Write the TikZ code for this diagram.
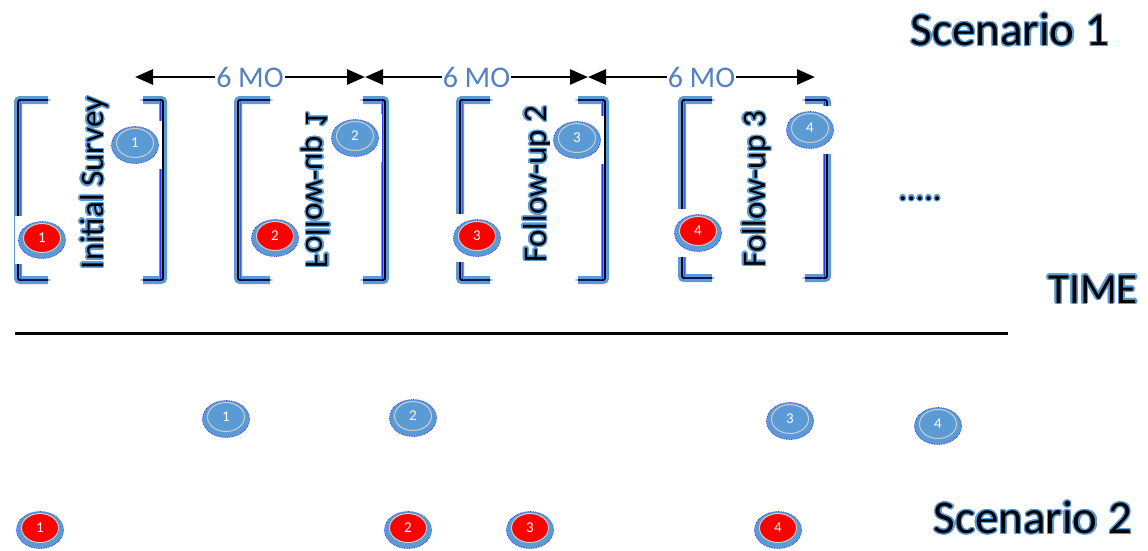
\documentclass[tikz,border=0pt]{standalone}
\usepackage{fontspec}
\setmainfont{Carlito}
\usepackage{contour}
\usetikzlibrary{arrows.meta,shapes.geometric}

\definecolor{bluefill}{RGB}{91,155,213}
\definecolor{glowblue}{RGB}{91,155,213}
\definecolor{labelblue}{RGB}{84,130,190}
\definecolor{ringgray}{RGB}{205,205,205}
\definecolor{rimblue}{RGB}{40,40,230}
\definecolor{edgeblue}{RGB}{30,60,255}
\definecolor{dotred}{RGB}{255,0,0}

\contourlength{1.3pt}
\contournumber{24}
\newcommand\glow[1]{\contour{glowblue}{#1}}

% a numbered disk: white backing, blue base, coloured face
\newcommand\marker[4]{%
  \node[backing] at (#2) {};
  \node[diskbase] (#1) at (#2) {};
  \node[diskface, fill=#3] at ([yshift=2pt]#1.center) {#4};
}

\begin{document}
\begin{tikzpicture}[x=1pt,y=-1pt,
  backing/.style={fill=white, minimum width=54pt, minimum height=48pt, inner sep=0pt},
  diskbase/.style={ellipse, fill=bluefill, draw=rimblue, densely dotted, line width=0.7pt,
                   minimum width=47pt, minimum height=37pt, inner sep=0pt},
  diskface/.style={ellipse, draw=ringgray, solid, line width=1pt, text=white,
                   minimum width=37pt, minimum height=29pt, inner sep=0pt,
                   font=\fontsize{15}{15}\selectfont},
  lbrk/.style={draw=black, line width=1.8pt, rounded corners=2pt,
               preaction={draw=bluefill, line width=8pt},
               postaction={draw=edgeblue, line width=0.7pt, transform canvas={xshift=2.6pt}}},
  rbrk/.style={draw=black, line width=1.8pt, rounded corners=2pt,
               preaction={draw=bluefill, line width=8pt},
               postaction={draw=edgeblue, line width=0.7pt, transform canvas={xshift=-2.6pt}}},
  span/.style={{Triangle[length=18pt,width=15pt]}-{Triangle[length=18pt,width=15pt]}, line width=2.8pt},
  spanlabel/.style={fill=white, text=labelblue, inner sep=1pt, font=\fontsize{30}{30}\selectfont},
  stagelabel/.style={rotate=90, font=\fontsize{33}{33}\selectfont, inner sep=0pt},
  title/.style={font=\fontsize{47}{47}\selectfont, inner sep=0pt}
]
\useasboundingbox (0,0) rectangle (1148,550);

% brackets around each survey wave
\draw[lbrk] (48,100) -- (18,100) -- (18,280) -- (48,280);
\draw[rbrk] (143,100) -- (163,100) -- (163,280) -- (143,280);
\draw[lbrk] (270,100) -- (238,100) -- (238,280) -- (270,280);
\draw[rbrk] (363,100) -- (385,100) -- (385,280) -- (363,280);
\draw[lbrk] (490,100) -- (460,100) -- (460,280) -- (490,280);
\draw[rbrk] (578,100) -- (605,100) -- (605,280) -- (578,280);
\draw[lbrk] (712,100) -- (682,100) -- (682,278) -- (712,278);
\draw[rbrk] (805,100) -- (827,100) -- (827,278) -- (805,278);

% wave labels (the first follow-up label is set mirrored)
\node[stagelabel] (s0) at (95,183) {\glow{Initial Survey}};
\node[stagelabel] (s1) at (315,190) {\scalebox{1}[-1]{\glow{Follow-up 1}}};
\node[stagelabel] (s2) at (538,184) {\glow{Follow-up 2}};
\node[stagelabel] (s3) at (757,189) {\glow{Follow-up 3}};

% scenario 1 markers
\marker{b1}{135,145}{bluefill}{1}
\marker{r1}{42,240}{dotred}{1}
\marker{b2}{355,138}{bluefill}{2}
\marker{r2}{275,238}{dotred}{2}
\marker{b3}{577,140}{bluefill}{3}
\marker{r3}{477,238}{dotred}{3}
\marker{b4}{810,130}{bluefill}{4}
\marker{r4}{698,233}{dotred}{4}

% six-month intervals
\coordinate (a0) at (135,77);
\coordinate (a1) at (365,77);
\coordinate (a2) at (588,77);
\coordinate (a3) at (815,77);
\draw[span] (a0) -- node[spanlabel] {6 MO} (a1);
\draw[span] (a1) -- node[spanlabel] {6 MO} (a2);
\draw[span] (a2) -- node[spanlabel] {6 MO} (a3);

\node[font=\fontsize{34}{34}\selectfont, anchor=base, inner sep=0pt] (more) at (920,200) {\glow{.....}};

% time axis
\coordinate (t0) at (15,333);
\coordinate (t1) at (1008,333);
\draw[line width=3pt] (t0) -- (t1);
\node[font=\fontsize{43}{43}\selectfont, inner sep=0pt] (time) at (1093,290) {\glow{TIME}};

% scenario 2 markers
\marker{c1}{226,419}{bluefill}{1}
\marker{c2}{413,418}{bluefill}{2}
\marker{c3}{790,421}{bluefill}{3}
\marker{c4}{938,426}{bluefill}{4}
\marker{d1}{40,530}{dotred}{1}
\marker{d2}{408,530}{dotred}{2}
\marker{d3}{530,530}{dotred}{3}
\marker{d4}{778,530}{dotred}{4}

\node[title] (sc1) at (1010,30) {\glow{Scenario 1}};
\node[title] (sc2) at (1033,518) {\glow{Scenario 2}};
\end{tikzpicture}
\end{document}
